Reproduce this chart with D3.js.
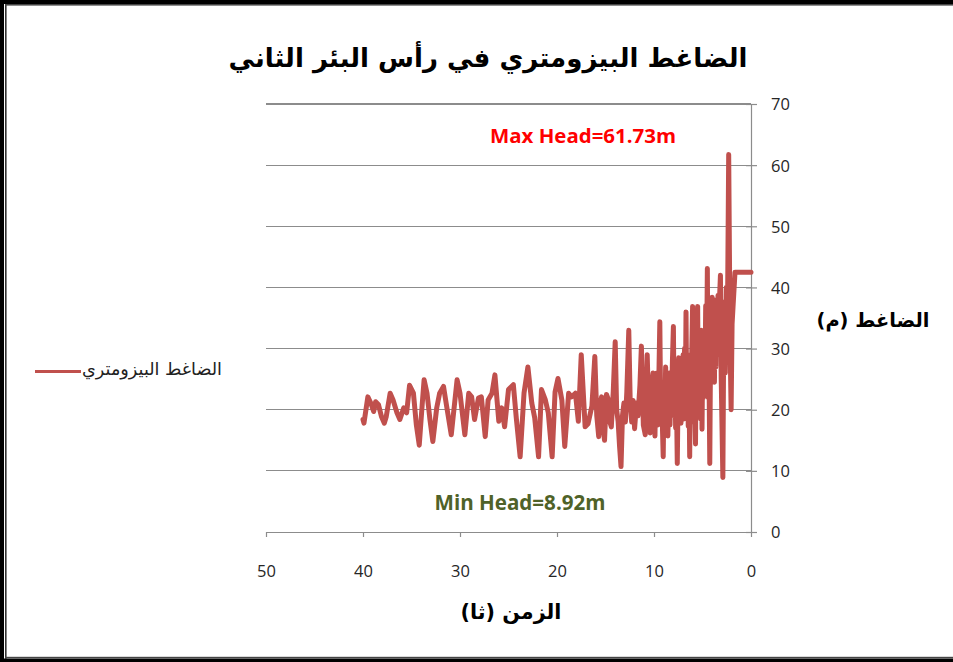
<!DOCTYPE html>
<html>
<head>
<meta charset="utf-8">
<script src="https://cdn.jsdelivr.net/npm/d3@7"></script>
<style>
  html, body { margin: 0; padding: 0; background: #fff; }
  svg { display: block; }
</style>
</head>
<body>
<svg id="chart" width="953" height="662"></svg>
<script>
// Piezometric head at the wellhead of the second well, time counted down in seconds.
const timeSec = [
  40.0, 39.9, 39.5, 39.2, 38.9, 38.7, 38.4, 38.1, 37.8, 37.6,
  37.2, 36.9, 36.5, 36.2, 35.8, 35.5, 35.2, 34.8, 34.5, 34.2,
  33.9, 33.7, 33.4, 33.1, 32.8, 32.4, 32.1, 31.7, 31.4, 30.9,
  30.3, 30.0, 29.5, 29.1, 28.8, 28.5, 28.1, 27.8, 27.4, 27.1,
  26.7, 26.4, 26.0, 25.7, 25.4, 25.0, 24.5, 24.2, 23.8, 23.4,
  23.0, 22.6, 22.3, 21.9, 21.6, 21.2, 20.9, 20.5, 20.2, 19.9,
  19.5, 19.2, 18.8, 18.5, 18.1, 17.8, 17.5, 17.1, 16.8, 16.4,
  16.1, 15.9, 15.7, 15.55, 15.4, 15.25, 15.1, 14.9, 14.7, 14.55,
  14.4, 14.2, 14.0, 13.85, 13.7, 13.55, 13.4, 13.25, 13.1, 12.95,
  12.8, 12.6, 12.45, 12.3, 12.15, 12.0, 11.8, 11.65, 11.45, 11.3,
  11.1, 10.9, 10.8, 10.7, 10.55, 10.4, 10.25, 10.1, 10.0,
  9.9, 9.82, 9.75, 9.68, 9.6, 9.5, 9.4, 9.3, 9.2, 9.12,
  9.05, 8.97, 8.9, 8.8, 8.72, 8.65, 8.57, 8.5, 8.42, 8.35,
  8.27, 8.2, 8.1, 8.0, 7.92, 7.85, 7.77, 7.7, 7.6, 7.52,
  7.45, 7.37, 7.3, 7.22, 7.15, 7.07, 7.0, 6.92, 6.85, 6.77,
  6.7, 6.62, 6.55, 6.47, 6.4, 6.32, 6.25, 6.17, 6.1, 6.02,
  5.95, 5.87, 5.8, 5.72, 5.65, 5.57, 5.5, 5.42, 5.35, 5.27,
  5.2, 5.12, 5.05, 4.97, 4.9, 4.82, 4.75, 4.67, 4.6, 4.5,
  4.42, 4.35, 4.25, 4.17, 4.1, 4.0, 3.92, 3.85, 3.77, 3.7,
  3.62, 3.55, 3.47, 3.4, 3.32, 3.25, 3.15, 3.07, 2.9, 2.82,
  2.75, 2.65, 2.55, 2.45, 2.3, 2.15, 2.05, 1.95, 1.85, 1.65,
  1.2, 0.6, 0.0
];
const headM = [
  18.4, 17.8, 22.1, 21.1, 19.7, 21.3, 20.8, 18.9, 17.8, 18.9,
  22.7, 21.6, 19.5, 18.4, 20.3, 19.5, 24.0, 22.7, 17.5, 14.2,
  20.8, 24.9, 22.7, 18.4, 14.8, 20.3, 22.7, 23.8, 20.8, 15.9,
  24.9, 22.7, 15.9, 22.7, 22.1, 18.4, 21.9, 22.1, 15.6, 21.6,
  22.7, 25.7, 18.1, 20.3, 17.2, 23.3, 24.1, 18.7, 12.3, 22.7,
  27.0, 21.1, 18.7, 12.3, 23.3, 21.6, 19.5, 12.3, 22.9, 25.1,
  21.6, 14.0, 22.7, 22.1, 22.7, 18.1, 29.0, 17.2, 17.7, 20.6,
  28.7, 19.0, 15.6, 21.0, 22.1, 17.0, 15.0, 22.5, 21.6, 18.0,
  17.2, 23.0, 31.1, 20.0, 18.1, 14.0, 10.7, 19.0, 21.1, 18.0,
  23.0, 33.0, 21.1, 18.0, 21.5, 16.9, 21.1, 19.0, 24.0, 30.4,
  17.5, 15.9, 22.0, 29.0, 20.0, 16.2, 24.0, 26.0, 18.0,
  15.7, 24.0, 19.0, 26.0, 17.5, 25.0, 34.4, 18.0, 24.0, 16.5,
  12.3, 23.0, 18.0, 27.0, 17.0, 24.0, 15.7, 22.0, 26.0, 17.5,
  25.0, 20.0, 28.0, 33.6, 19.0, 28.0, 17.0, 24.0, 11.2, 22.0,
  28.5, 18.0, 26.0, 17.8, 27.0, 19.0, 29.0, 18.5, 30.0, 21.0,
  36.0, 20.0, 28.0, 17.3, 26.0, 12.3, 29.0, 19.0, 30.0, 36.9,
  18.0, 29.0, 20.0, 14.4, 31.0, 22.0, 36.9, 19.0, 32.0, 27.6,
  18.5, 33.0, 16.8, 30.0, 22.0, 33.0, 25.0, 37.0, 24.0, 43.1,
  22.0, 30.0, 11.2, 30.0, 25.0, 38.4, 26.0, 36.0, 24.5, 35.0,
  27.0, 38.0, 29.0, 38.7, 30.0, 38.0, 42.0, 25.0, 8.92, 30.0,
  37.6, 26.0, 40.0, 30.0, 61.73, 30.0, 20.0, 34.0, 36.9, 42.5,
  42.5, 42.5, 42.5
];
const xTicks = [50, 40, 30, 20, 10, 0];
const yTicks = [0, 10, 20, 30, 40, 50, 60, 70];

const titleText = "الضاغط البيزومتري في رأس البئر الثاني";
const seriesName = "الضاغط البيزومتري";
const xTitle = "الزمن (ثا)";
const yTitle = "الضاغط (م)";
const maxNote = "Max Head=61.73m";
const minNote = "Min Head=8.92m";

const svg = d3.select("#chart");
const arabicFont = "'DejaVu Sans', sans-serif";
const latinFont = "'Open Sans', 'Liberation Sans', sans-serif";
const lineColor = "#C0504D";
const gridColor = "#8C8C8C";

// scale a text element's font size so it spans the given width
function fitWidth(sel, w) {
  const len = sel.node().getComputedTextLength();
  const fs = parseFloat(sel.attr("font-size"));
  if (len > 0) sel.attr("font-size", (fs * w / len).toFixed(2));
  return sel;
}

// page frame (left, top and bottom rules)
const frame = svg.append("g");
frame.append("rect").attr("x", 0).attr("y", 0).attr("width", 4).attr("height", 662).attr("fill", "#000");
frame.append("rect").attr("x", 5).attr("y", 0).attr("width", 1.6).attr("height", 662).attr("fill", "#333");
frame.append("rect").attr("x", 0).attr("y", 0).attr("width", 953).attr("height", 4).attr("fill", "#000");
frame.append("rect").attr("x", 5).attr("y", 4).attr("width", 948).attr("height", 1.6).attr("fill", "#444");
frame.append("rect").attr("x", 0).attr("y", 658.5).attr("width", 953).attr("height", 3.5).attr("fill", "#000");
frame.append("rect").attr("x", 5).attr("y", 656.8).attr("width", 948).attr("height", 1.6).attr("fill", "#444");

// scales: time runs right-to-left, axis of head on the right side
const x = d3.scaleLinear().domain([50, 0]).range([266, 751]);
const y = d3.scaleLinear().domain([0, 70]).range([532, 104]);

// horizontal gridlines
svg.append("g")
  .selectAll("line")
  .data(yTicks.filter(d => d > 0))
  .join("line")
  .attr("x1", x(50)).attr("x2", x(0))
  .attr("y1", d => y(d)).attr("y2", d => y(d))
  .attr("stroke", gridColor).attr("stroke-width", 1.2)
  .attr("shape-rendering", "crispEdges");

// x axis
const gx = svg.append("g")
  .attr("transform", `translate(0,${y(0)})`)
  .call(d3.axisBottom(x).tickValues(xTicks).tickSize(5).tickSizeOuter(0).tickFormat(d3.format("d")));
gx.select(".domain").attr("stroke", gridColor).attr("stroke-width", 1.2);
gx.selectAll(".tick line").attr("stroke", gridColor).attr("stroke-width", 1.2);
gx.selectAll(".tick text")
  .attr("y", 45).attr("dy", 0)
  .attr("font-family", latinFont).attr("font-size", 16.5).attr("fill", "#262626");

// y axis on the right, ticks crossing the axis line
const gy = svg.append("g")
  .attr("transform", `translate(${x(0)},0)`)
  .call(d3.axisRight(y).tickValues(yTicks).tickSize(6).tickSizeOuter(0).tickPadding(14).tickFormat(d3.format("d")));
gy.select(".domain").attr("stroke", gridColor).attr("stroke-width", 1.2);
gy.selectAll(".tick line").attr("x1", -5).attr("stroke", gridColor).attr("stroke-width", 1.2);
gy.selectAll(".tick text")
  .attr("font-family", latinFont).attr("font-size", 16.5).attr("fill", "#262626")
  .attr("dy", "0.36em");

// series line
const line = d3.line()
  .x((d, i) => x(timeSec[i]))
  .y(d => y(d));
svg.append("path")
  .datum(headM)
  .attr("d", line)
  .attr("fill", "none")
  .attr("stroke", lineColor)
  .attr("stroke-width", 5)
  .attr("stroke-linejoin", "round")
  .attr("stroke-linecap", "round");

// title
const t = svg.append("text")
  .attr("x", 488).attr("y", 67)
  .attr("text-anchor", "middle")
  .attr("font-family", arabicFont).attr("font-weight", "bold")
  .attr("font-size", 28).attr("fill", "#000")
  .text(titleText);
fitWidth(t, 519);

// axis titles
const ty = svg.append("text")
  .attr("x", 873).attr("y", 327)
  .attr("text-anchor", "middle")
  .attr("font-family", arabicFont).attr("font-weight", "bold")
  .attr("font-size", 20).attr("fill", "#000")
  .text(yTitle);
fitWidth(ty, 113);

const tx = svg.append("text")
  .attr("x", 511).attr("y", 619)
  .attr("text-anchor", "middle")
  .attr("font-family", arabicFont).attr("font-weight", "bold")
  .attr("font-size", 20).attr("fill", "#000")
  .text(xTitle);
fitWidth(tx, 101);

// legend
const legend = svg.append("g");
legend.append("line")
  .attr("x1", 35).attr("x2", 81).attr("y1", 371.5).attr("y2", 371.5)
  .attr("stroke", lineColor).attr("stroke-width", 3.2);
const lt = legend.append("text")
  .attr("x", 152).attr("y", 375)
  .attr("text-anchor", "middle")
  .attr("font-family", arabicFont)
  .attr("font-size", 13).attr("fill", "#222")
  .text(seriesName);
fitWidth(lt, 140);

// extreme value notes
const mx = svg.append("text")
  .attr("x", 583).attr("y", 143)
  .attr("text-anchor", "middle")
  .attr("font-family", latinFont).attr("font-weight", "bold")
  .attr("font-size", 17).attr("fill", "#FF0000")
  .text(maxNote);
fitWidth(mx, 186);

const mn = svg.append("text")
  .attr("x", 520).attr("y", 510)
  .attr("text-anchor", "middle")
  .attr("font-family", latinFont).attr("font-weight", "bold")
  .attr("font-size", 17).attr("fill", "#4F6228")
  .text(minNote);
fitWidth(mn, 171);
</script>
</body>
</html>
